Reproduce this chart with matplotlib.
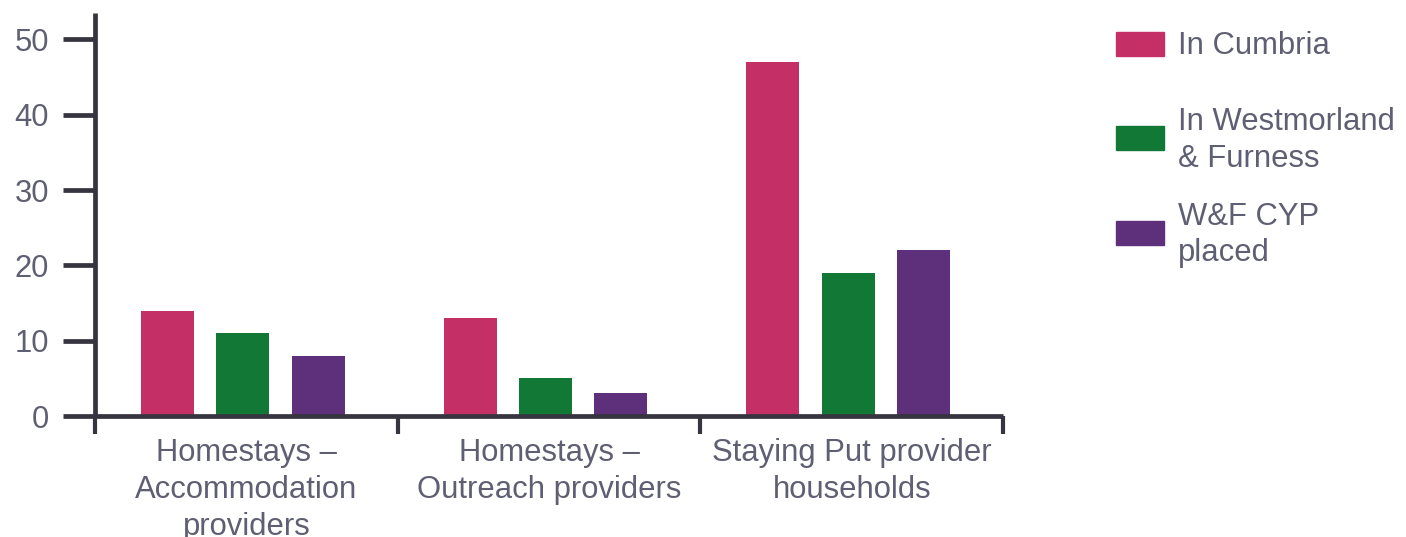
import matplotlib.pyplot as plt
from matplotlib.patches import Rectangle
import numpy as np

plt.rcParams['font.family'] = ['Liberation Sans', 'DejaVu Sans']

categories = ['Homestays –\nAccommodation\nproviders',
              'Homestays –\nOutreach providers',
              'Staying Put provider\nhouseholds']
series = ['In Cumbria', 'In Westmorland\n& Furness', 'W&F CYP\nplaced']
cumbria = [14, 13, 47]
westmorland = [11, 5, 19]
cyp_placed = [8, 3, 22]
values = [cumbria, westmorland, cyp_placed]
colors = ['#c43066', '#117836', '#5e2f7a']

axis_col = '#35343f'
text_col = '#5f5f73'
fs = 22.3

fig = plt.figure(figsize=(14.06, 5.37), dpi=100)
ax = fig.add_axes([0.0676, 0.2253, 0.6458, 0.7505])

x = np.arange(len(categories))
w = 0.175
for i, (vals, c) in enumerate(zip(values, colors)):
    ax.bar(x - 0.012 + (i - 1) * 0.249, vals, width=w, color=c, zorder=2)

ax.set_xlim(-0.5, 2.5)
ax.set_ylim(0, 53.5)
ax.set_yticks(range(0, 51, 10))
ax.set_xticks(x)
ax.set_xticklabels(categories, fontsize=fs, color=text_col, linespacing=1.3)
ax.set_xticks([-0.5, 0.5, 1.5, 2.5], minor=True)
ax.tick_params(axis='x', which='major', length=0, pad=16)
ax.tick_params(axis='x', which='minor', length=13, width=3, color=axis_col)
ax.tick_params(axis='y', length=23, width=3.4, color=axis_col, pad=10,
               labelsize=fs, labelcolor=text_col)

for s in ['top', 'right']:
    ax.spines[s].set_visible(False)
for s in ['left', 'bottom']:
    ax.spines[s].set_color(axis_col)
    ax.spines[s].set_linewidth(3.4)
    ax.spines[s].set_capstyle('butt')

# legend, drawn by hand to match the spacing
for i, (lab, c) in enumerate(zip(series, colors)):
    yc = 1 - (44 + i * 94.5) / 537
    fig.patches.append(Rectangle((1116 / 1406, yc - 12 / 537), 48 / 1406, 24 / 537,
                                 transform=fig.transFigure, color=c))
    fig.text(1178 / 1406, yc - 2 / 537, lab, fontsize=fs, color=text_col, va='center',
             ha='left', linespacing=1.3)

fig.savefig('out.png', dpi=100)
